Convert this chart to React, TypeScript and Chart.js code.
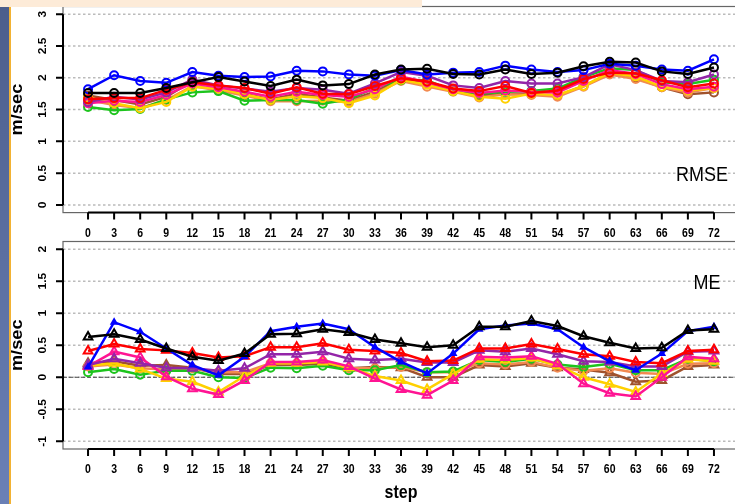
import React, { useEffect, useRef } from "react";
import { Chart, registerables } from "chart.js";

Chart.register(...registerables);

// ---------- data ----------
const steps = [0, 3, 6, 9, 12, 15, 18, 21, 24, 27, 30, 33, 36, 39, 42, 45, 48, 51, 54, 57, 60, 63, 66, 69, 72];
const xTickLabels = steps.map(String);

const rmseYTicks = [0, 0.5, 1, 1.5, 2, 2.5, 3];
const rmseYTickLabels = ["0", "0.5", "1", "1.5", "2", "2.5", "3"];
const meYTicks = [-1, -0.5, 0, 0.5, 1, 1.5, 2];
const meYTickLabels = ["-1", "-0.5", "0", "0.5", "1", "1.5", "2"];

const seriesColors = ["#000000", "#0000FF", "#FF0000", "#9325A8", "#FF1493", "#FFD000", "#1DC41D", "#F28A50", "#A0522D"];

const rmseBlack = [1.76, 1.76, 1.76, 1.84, 1.93, 2.01, 1.94, 1.87, 1.97, 1.88, 1.90, 2.05, 2.13, 2.14, 2.06, 2.05, 2.13, 2.06, 2.08, 2.18, 2.25, 2.24, 2.10, 2.06, 2.16];
const rmseBlue = [1.82, 2.04, 1.95, 1.92, 2.09, 2.03, 2.01, 2.02, 2.11, 2.10, 2.05, 2.03, 2.12, 2.05, 2.08, 2.09, 2.19, 2.13, 2.09, 2.12, 2.22, 2.19, 2.13, 2.11, 2.29];
const rmseRed = [1.66, 1.68, 1.68, 1.81, 1.93, 1.88, 1.84, 1.75, 1.85, 1.75, 1.74, 1.87, 1.99, 1.94, 1.83, 1.79, 1.87, 1.76, 1.80, 1.98, 2.08, 2.07, 1.96, 1.85, 1.91];
const rmsePurple = [1.62, 1.70, 1.66, 1.77, 1.97, 1.88, 1.83, 1.78, 1.84, 1.81, 1.75, 1.91, 2.09, 2.03, 1.88, 1.84, 1.95, 1.91, 1.91, 2.01, 2.21, 2.12, 1.95, 1.93, 2.05];
const rmsePink = [1.60, 1.64, 1.62, 1.73, 1.91, 1.85, 1.78, 1.70, 1.78, 1.73, 1.70, 1.82, 2.02, 1.93, 1.82, 1.76, 1.80, 1.78, 1.77, 1.95, 2.12, 2.06, 1.90, 1.82, 1.86];
const rmseYellow = [1.69, 1.60, 1.52, 1.62, 1.86, 1.83, 1.74, 1.65, 1.71, 1.68, 1.60, 1.72, 1.97, 1.89, 1.79, 1.70, 1.67, 1.75, 1.73, 1.87, 2.08, 2.02, 1.86, 1.80, 1.84];
const rmseGreen = [1.54, 1.49, 1.51, 1.66, 1.77, 1.79, 1.64, 1.65, 1.65, 1.59, 1.66, 1.84, 1.96, 1.96, 1.79, 1.75, 1.78, 1.79, 1.83, 2.01, 2.15, 2.12, 1.93, 1.90, 1.97];
const rmseOrange = [1.65, 1.57, 1.52, 1.65, 1.87, 1.80, 1.72, 1.63, 1.63, 1.64, 1.62, 1.75, 1.95, 1.86, 1.78, 1.69, 1.74, 1.73, 1.70, 1.86, 2.05, 1.98, 1.85, 1.77, 1.84];
const rmseBrown = [1.72, 1.65, 1.58, 1.70, 1.95, 1.83, 1.75, 1.66, 1.75, 1.69, 1.64, 1.78, 1.97, 1.91, 1.81, 1.72, 1.75, 1.74, 1.72, 1.87, 2.07, 2.00, 1.85, 1.74, 1.77];

const meBlack = [0.63, 0.67, 0.59, 0.45, 0.32, 0.26, 0.37, 0.67, 0.68, 0.75, 0.70, 0.59, 0.53, 0.47, 0.50, 0.79, 0.79, 0.88, 0.80, 0.64, 0.54, 0.45, 0.46, 0.73, 0.75];
const meBlue = [0.16, 0.86, 0.71, 0.45, 0.19, 0.03, 0.32, 0.72, 0.79, 0.84, 0.75, 0.47, 0.24, 0.06, 0.37, 0.75, 0.81, 0.84, 0.75, 0.47, 0.25, 0.11, 0.37, 0.72, 0.79];
const meRed = [0.41, 0.52, 0.44, 0.42, 0.38, 0.31, 0.33, 0.47, 0.47, 0.53, 0.43, 0.41, 0.38, 0.25, 0.26, 0.45, 0.45, 0.52, 0.44, 0.36, 0.33, 0.24, 0.22, 0.41, 0.43];
const mePurple = [0.19, 0.29, 0.22, 0.15, 0.14, 0.10, 0.14, 0.36, 0.36, 0.40, 0.29, 0.27, 0.29, 0.23, 0.23, 0.42, 0.40, 0.45, 0.36, 0.25, 0.24, 0.17, 0.17, 0.40, 0.41];
const mePink = [0.17, 0.40, 0.31, 0.01, -0.18, -0.27, -0.05, 0.24, 0.24, 0.27, 0.17, -0.02, -0.19, -0.28, -0.05, 0.32, 0.31, 0.33, 0.21, -0.10, -0.25, -0.30, 0.00, 0.32, 0.29];
const meYellow = [0.18, 0.22, 0.13, -0.02, -0.07, -0.23, 0.02, 0.22, 0.22, 0.24, 0.15, 0.02, -0.05, -0.19, 0.05, 0.28, 0.27, 0.30, 0.18, 0.00, -0.11, -0.23, 0.06, 0.28, 0.25];
const meGreen = [0.08, 0.13, 0.04, 0.10, 0.10, 0.00, -0.01, 0.15, 0.14, 0.18, 0.11, 0.11, 0.19, 0.08, 0.09, 0.27, 0.24, 0.29, 0.20, 0.16, 0.21, 0.11, 0.11, 0.29, 0.25];
const meOrange = [0.17, 0.20, 0.14, 0.12, 0.14, 0.08, 0.08, 0.22, 0.22, 0.25, 0.14, 0.14, 0.16, 0.08, 0.08, 0.22, 0.20, 0.24, 0.15, 0.10, 0.14, 0.07, 0.05, 0.21, 0.22];
const meBrown = [0.22, 0.25, 0.18, 0.19, 0.15, 0.05, 0.05, 0.19, 0.19, 0.21, 0.14, 0.16, 0.15, 0.00, 0.00, 0.19, 0.17, 0.22, 0.15, 0.12, 0.07, -0.07, -0.05, 0.17, 0.19];

const rmseSeries = [rmseBlack, rmseBlue, rmseRed, rmsePurple, rmsePink, rmseYellow, rmseGreen, rmseOrange, rmseBrown];
const meSeries = [meBlack, meBlue, meRed, mePurple, mePink, meYellow, meGreen, meOrange, meBrown];
const meMarkers = ["triangle", "triangle", "triangle", "triangle", "triangle", "triangle", "circle", "circle", "triangle"];

const FONT = '"Liberation Sans", Arial, Helvetica, sans-serif';
const STRETCH = 1.14;

function txt(ctx: CanvasRenderingContext2D, s: string, x: number, y: number, font: string, rot = false, align: CanvasTextAlign = "center") {
  ctx.save();
  ctx.translate(x, y);
  if (rot) {
    ctx.rotate(-Math.PI / 2);
    ctx.scale(STRETCH, 1);
  } else {
    ctx.scale(1, STRETCH);
  }
  ctx.font = font;
  ctx.fillStyle = "#000";
  ctx.textAlign = align;
  ctx.textBaseline = "middle";
  ctx.fillText(s, 0, 0);
  ctx.restore();
}

function panelPlugin(cfg: any) {
  return {
    id: "rpanel",
    beforeDatasetsDraw(chart: any) {
      const ctx: CanvasRenderingContext2D = chart.ctx;
      const a = chart.chartArea;
      const xs = chart.scales.x;
      const ys = chart.scales.y;
      ctx.save();
      // grid
      ctx.strokeStyle = "#BBBBBB";
      ctx.lineWidth = 1.5;
      ctx.setLineDash([2.5, 2.5]);
      cfg.yTicks.forEach((v: number) => {
        const py = ys.getPixelForValue(v);
        ctx.beginPath();
        ctx.moveTo(a.left, py);
        ctx.lineTo(a.right, py);
        ctx.stroke();
      });
      if (cfg.zeroLine) {
        ctx.strokeStyle = "#444";
        ctx.lineWidth = 1.2;
        ctx.setLineDash([4, 2]);
        const py = ys.getPixelForValue(0);
        ctx.beginPath();
        ctx.moveTo(a.left, py);
        ctx.lineTo(a.right, py);
        ctx.stroke();
      }
      ctx.setLineDash([]);
      // box
      ctx.strokeStyle = "#666";
      ctx.lineWidth = 1.2;
      ctx.strokeRect(a.left, a.top, a.right - a.left, a.bottom - a.top);
      // axes
      ctx.strokeStyle = "#000";
      ctx.lineWidth = 2;
      const yt0 = ys.getPixelForValue(cfg.yTicks[0]);
      const yt1 = ys.getPixelForValue(cfg.yTicks[cfg.yTicks.length - 1]);
      ctx.beginPath();
      ctx.moveTo(a.left, yt0);
      ctx.lineTo(a.left, yt1);
      cfg.yTicks.forEach((v: number) => {
        const py = ys.getPixelForValue(v);
        ctx.moveTo(a.left, py);
        ctx.lineTo(a.left - 7, py);
      });
      const xt0 = xs.getPixelForValue(steps[0]);
      const xt1 = xs.getPixelForValue(steps[steps.length - 1]);
      ctx.moveTo(xt0, a.bottom);
      ctx.lineTo(xt1, a.bottom);
      steps.forEach((s) => {
        const px = xs.getPixelForValue(s);
        ctx.moveTo(px, a.bottom);
        ctx.lineTo(px, a.bottom + 7);
      });
      ctx.stroke();
      // tick labels
      const tickFont = `bold 10.5px ${FONT}`;
      cfg.yTicks.forEach((v: number, i: number) => {
        txt(ctx, cfg.yLabels[i], a.left - 20, ys.getPixelForValue(v), tickFont, true);
      });
      steps.forEach((s, i) => {
        txt(ctx, xTickLabels[i], xs.getPixelForValue(s), a.bottom + 21, tickFont);
      });
      // axis titles
      txt(ctx, "m/sec", 18, (a.top + a.bottom) / 2, `bold 16px ${FONT}`, true);
      if (cfg.xTitle) {
        txt(ctx, cfg.xTitle, (a.left + a.right) / 2, a.bottom + 44, `bold 16px ${FONT}`);
      }
      // panel label
      txt(ctx, cfg.label, cfg.labelX, cfg.labelY, `18px ${FONT}`);
      ctx.restore();
    },
  };
}

function makeDatasets(series: number[][], markers: string[] | null, bottom: boolean) {
  return series.map((vals, i) => {
    const color = seriesColors[i];
    const isBlueBottom = bottom && i === 1;
    const isTri = markers ? markers[i] === "triangle" : false;
    return {
      label: "s" + i,
      data: steps.map((s, j) => ({ x: s, y: vals[j] })),
      borderColor: color,
      backgroundColor: color,
      borderWidth: 2.5,
      pointStyle: markers ? markers[i] : "circle",
      pointRadius: isBlueBottom ? 3 : isTri ? 5 : 4,
      pointBorderWidth: 2,
      pointBorderColor: color,
      pointBackgroundColor: isBlueBottom ? color : "rgba(255,255,255,0)",
      tension: 0,
    };
  });
}

function Panel(props: any) {
  const ref = useRef<HTMLCanvasElement>(null);
  useEffect(() => {
    const c = ref.current!;
    const chart = new Chart(c, {
      type: "line",
      data: { datasets: makeDatasets(props.series, props.markers, props.bottom) as any },
      options: {
        animation: false,
        responsive: false,
        maintainAspectRatio: false,
        layout: { padding: props.padding },
        plugins: { legend: { display: false }, tooltip: { enabled: false } },
        scales: {
          x: { type: "linear", display: false, min: -2.88, max: 74.88 },
          y: { type: "linear", display: false, min: props.yMin, max: props.yMax },
        },
      },
      plugins: [panelPlugin(props.cfg)],
    });
    return () => chart.destroy();
  }, []);
  return (
    <canvas
      ref={ref}
      width={props.w}
      height={props.h}
      style={{ position: "absolute", left: 0, top: props.top, width: props.w, height: props.h }}
    />
  );
}

export default function App() {
  return (
    <div style={{ position: "fixed", left: 0, top: 0, width: 735, height: 504, overflow: "hidden", background: "#fff" }}>
      <Panel
        top={0}
        w={760}
        h={250}
        series={rmseSeries}
        markers={null}
        bottom={false}
        yMin={-0.12}
        yMax={3.12}
        padding={{ left: 63, top: 6.5, right: 21, bottom: 37.4 }}
        cfg={{ yTicks: rmseYTicks, yLabels: rmseYTickLabels, zeroLine: false, label: "RMSE", labelX: 702, labelY: 175 }}
      />
      <Panel
        top={230}
        w={760}
        h={274}
        series={meSeries}
        markers={meMarkers}
        bottom={true}
        yMin={-1.12}
        yMax={2.12}
        padding={{ left: 63, top: 11.5, right: 21, bottom: 55 }}
        cfg={{ yTicks: meYTicks, yLabels: meYTickLabels, zeroLine: true, label: "ME", labelX: 707, labelY: 53, xTitle: "step" }}
      />
      <div style={{ position: "absolute", left: 0, top: 0, width: 422, height: 7, background: "#FDEBD8" }} />
      <div style={{ position: "absolute", left: 0, top: 7, width: 9, height: 497, background: "linear-gradient(#4C5E8C, #6A80B6)" }} />
      <div style={{ position: "absolute", left: 9, top: 7, width: 2, height: 497, background: "#F2B233" }} />
    </div>
  );
}
